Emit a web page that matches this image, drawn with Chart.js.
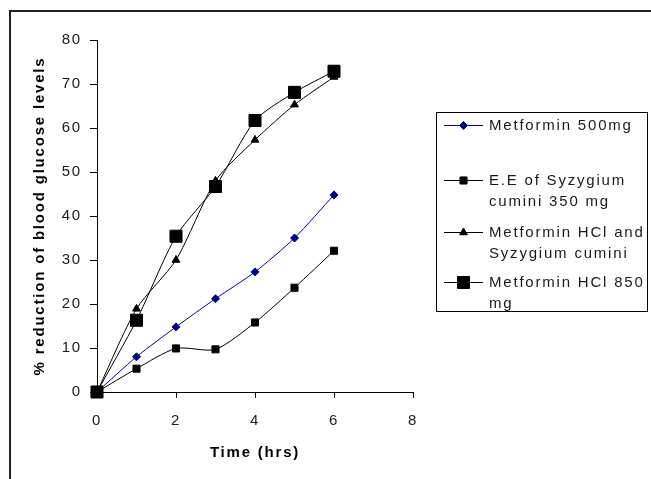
<!DOCTYPE html>
<html>
<head>
<meta charset="utf-8">
<script src="https://cdn.jsdelivr.net/npm/chart.js@4/dist/chart.umd.min.js"></script>
<style>
  html, body { margin: 0; padding: 0; background: #fff; }
  #wrap { width: 651px; height: 479px; }
</style>
</head>
<body>
<div id="wrap"><canvas id="myChart" width="651" height="479"></canvas></div>
<script>
// values
const hours = [0, 1, 2, 3, 4, 5, 6];
const metformin500 = [0, 8, 14.8, 21.2, 27.3, 35.0, 44.8];
const eeSyzygium = [0, 5.3, 9.9, 9.7, 15.8, 23.7, 32.1];
const metforminSyzygium = [0, 18.9, 30, 48, 57.3, 65.3, 71.6];
const metformin850 = [0, 16.3, 35.4, 46.7, 61.7, 68.1, 72.9];

const seriesNames = [
  'Metformin 500mg',
  'E.E of Syzygium cumini 350 mg',
  'Metformin HCl and Syzygium cumini',
  'Metformin HCl 850 mg'
];
const legendLines = [
  ['Metformin 500mg'],
  ['E.E of Syzygium', 'cumini 350 mg'],
  ['Metformin HCl and', 'Syzygium cumini'],
  ['Metformin HCl 850', 'mg']
];
const xTicks = [0, 2, 4, 6, 8];
const yTicks = [0, 10, 20, 30, 40, 50, 60, 70, 80];

const FONT = '"Liberation Sans", Arial, sans-serif';
const TEXT = '#1a1a1a';

function toPoints(values) {
  return values.map((v, i) => ({ x: hours[i], y: v }));
}

function makeSet(label, values, color, style, radius, order) {
  return {
    label: label,
    data: toPoints(values),
    borderColor: color,
    backgroundColor: color,
    borderWidth: 1,
    pointStyle: style,
    pointRadius: radius,
    pointHoverRadius: radius,
    pointBorderWidth: 1,
    tension: 0.25,
    clip: false,
    order: order
  };
}

const spacingPlugin = {
  id: 'spacing',
  beforeUpdate(chart) { chart.ctx.letterSpacing = '1.8px'; },
  beforeDraw(chart) { chart.ctx.letterSpacing = '1.8px'; }
};

const framePlugin = {
  id: 'frame',
  beforeDraw(chart) {
    const ctx = chart.ctx;
    ctx.save();
    ctx.strokeStyle = '#222';
    ctx.lineWidth = 2;
    ctx.beginPath();
    ctx.moveTo(10, chart.height);
    ctx.lineTo(10, 11);
    ctx.lineTo(chart.width, 11);
    ctx.stroke();
    ctx.restore();
  }
};

const legendPlugin = {
  id: 'boxLegend',
  afterDraw(chart) {
    const ctx = chart.ctx;
    const box = { x: 436.5, y: 112.5, w: 211, h: 199 };
    const rowY = [13, 68, 120, 170];
    ctx.save();
    ctx.strokeStyle = '#000';
    ctx.lineWidth = 1;
    ctx.strokeRect(box.x, box.y, box.w, box.h);
    chart.data.datasets.forEach((ds, i) => {
      const y = box.y + rowY[i];
      ctx.strokeStyle = ds.borderColor;
      ctx.fillStyle = ds.backgroundColor;
      ctx.lineWidth = 1;
      ctx.beginPath();
      ctx.moveTo(444, y);
      ctx.lineTo(483, y);
      ctx.stroke();
      Chart.helpers.drawPoint(ctx, {
        pointStyle: ds.pointStyle, radius: ds.pointRadius, rotation: 0, borderWidth: 1
      }, 463.5, y);
      ctx.fillStyle = TEXT;
      ctx.font = '15px ' + FONT;
      ctx.textBaseline = 'middle';
      ctx.textAlign = 'left';
      ctx.letterSpacing = '1.8px';
      legendLines[i].forEach((line, k) => {
        ctx.fillText(line, 489, y + k * 21);
      });
    });
    ctx.restore();
  }
};

const config = {
  type: 'line',
  data: {
    datasets: [
      makeSet(seriesNames[0], metformin500, '#000080', 'rectRot', 4, 3),
      makeSet(seriesNames[1], eeSyzygium, '#000', 'rect', 5, 2),
      makeSet(seriesNames[2], metforminSyzygium, '#000', 'triangle', 4.5, 1),
      makeSet(seriesNames[3], metformin850, '#000', 'rect', 8.5, 0)
    ]
  },
  options: {
    responsive: false,
    animation: false,
    events: [],
    layout: { padding: { left: 0, top: 40, right: 238, bottom: 0 } },
    plugins: { legend: { display: false }, tooltip: { enabled: false } },
    scales: {
      x: {
        type: 'linear',
        min: 0,
        max: 8,
        afterFit(scale) { scale.height = 87; },
        afterBuildTicks(scale) { scale.ticks = xTicks.map(v => ({ value: v })); },
        border: { color: '#000', width: 1 },
        grid: { drawOnChartArea: false, drawTicks: true, tickLength: 6, tickColor: '#000', tickWidth: 1 },
        ticks: { color: TEXT, font: { family: FONT, size: 15 }, padding: 14, maxRotation: 0 },
        title: {
          display: true,
          text: 'Time (hrs)',
          color: '#000',
          font: { family: FONT, size: 15, weight: 'bold' },
          padding: { top: 0, bottom: 17 }
        }
      },
      y: {
        min: 0,
        max: 80,
        afterFit(scale) { scale.width = 97; },
        afterBuildTicks(scale) { scale.ticks = yTicks.map(v => ({ value: v })); },
        border: { color: '#000', width: 1 },
        grid: { drawOnChartArea: false, drawTicks: true, tickLength: 7, tickColor: '#000', tickWidth: 1 },
        ticks: { color: TEXT, font: { family: FONT, size: 15 }, padding: 8 },
        title: {
          display: true,
          text: '% reduction of blood glucose levels',
          color: '#000',
          font: { family: FONT, size: 15, weight: 'bold' },
          padding: { top: 31, bottom: 0 }
        }
      }
    }
  },
  plugins: [spacingPlugin, framePlugin, legendPlugin]
};

document.addEventListener('DOMContentLoaded', () => {
  new Chart(document.querySelector('#myChart'), config);
});
</script>
</body>
</html>
